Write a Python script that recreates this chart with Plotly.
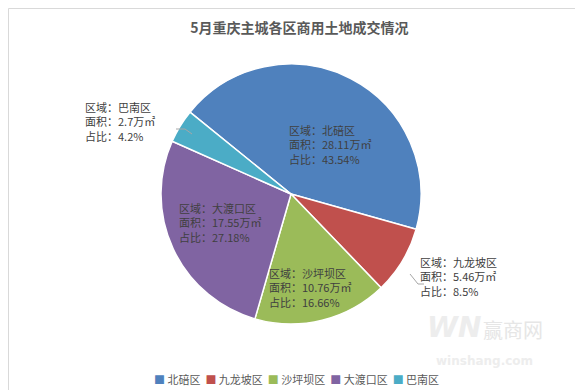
import plotly.graph_objects as go

districts = ["北碚区", "九龙坡区", "沙坪坝区", "大渡口区", "巴南区"]
areas = [28.11, 5.46, 10.76, 17.55, 2.7]          # 万㎡
shares = ["43.54%", "8.5%", "16.66%", "27.18%", "4.2%"]
colors = ["#4F81BD", "#C0504D", "#9BBB59", "#8064A2", "#4BACC6"]

W, H = 583, 390
def px(x): return x / W
def py(y): return 1 - y / H

cx, cy, r = 283, 186, 130

fig = go.Figure(go.Pie(
    labels=districts, values=areas, sort=False, direction="clockwise",
    rotation=-51, textinfo="none", hoverinfo="label+value",
    marker=dict(colors=colors, line=dict(color="white", width=1.5)),
    domain=dict(x=[px(cx - r), px(cx + r)], y=[py(cy + r), py(cy - r)]),
    showlegend=False,
))

# watermark
fig.add_annotation(x=px(475), y=py(338), xref="paper", yref="paper", text="<b><i>WN</i></b>",
                   showarrow=False, font=dict(family="DejaVu Sans", size=28, color="#EDEDED"))
fig.add_annotation(x=px(537), y=py(338), xref="paper", yref="paper", text="赢商网",
                   showarrow=False, font=dict(family="Noto Sans CJK SC", size=20, color="#E6E6E6"))
fig.add_annotation(x=px(527), y=py(362), xref="paper", yref="paper", text="<b>winshang.com</b>",
                   showarrow=False, font=dict(family="DejaVu Sans", size=12, color="#EDEDED"))

# label positions (text box left/center in pixels)
label_pos = {
    "北碚区": (279, 136),
    "九龙坡区": (410, 268),
    "沙坪坝区": (259, 279),
    "大渡口区": (169, 214),
    "巴南区": (75, 113),
}
font = dict(family="Noto Sans CJK SC, Microsoft YaHei, sans-serif", size=11, color="#404040")
for d, a, s in zip(districts, areas, shares):
    x, y = label_pos[d]
    txt = f"区域：{d}<br>面积：{a:g}万㎡<br>占比：{s}"
    fig.add_annotation(x=px(x), y=py(y), xref="paper", yref="paper", text=txt,
                       showarrow=False, xanchor="left", yanchor="middle", align="left", font=font)

# leader lines
fig.add_shape(type="path", xref="paper", yref="paper",
              path=f"M {px(168)} {py(121)} L {px(177)} {py(121)} L {px(184)} {py(126)}",
              line=dict(color="#A6A6A6", width=1))
fig.add_shape(type="path", xref="paper", yref="paper",
              path=f"M {px(402)} {py(266)} L {px(410)} {py(276)} L {px(416)} {py(276)}",
              line=dict(color="#A6A6A6", width=1))

# compact legend drawn as text
legend_txt = "  ".join(f"<span style='color:{c}'>■</span> {d}" for c, d in zip(colors, districts))
fig.add_annotation(x=px(288), y=py(371), xref="paper", yref="paper", text=legend_txt,
                   showarrow=False, xanchor="center", yanchor="middle",
                   font=dict(family="Noto Sans CJK SC, sans-serif", size=11, color="#595959"))

# chart border
fig.add_shape(type="rect", xref="paper", yref="paper", x0=px(0.5), x1=px(W - 0.5), y0=py(H - 0.5), y1=py(0.5),
              line=dict(color="#D9D9D9", width=1))

fig.update_layout(
    width=W, height=H, margin=dict(l=0, r=0, t=0, b=0),
    paper_bgcolor="white", plot_bgcolor="white",
    title=dict(text="<b>5月重庆主城各区商用土地成交情况</b>", x=0.5, xanchor="center",
               y=py(20), yanchor="middle", yref="paper",
               font=dict(family="Noto Sans CJK SC, sans-serif", size=14, color="#595959")),
    showlegend=False,
)
fig.write_html("out.html")
